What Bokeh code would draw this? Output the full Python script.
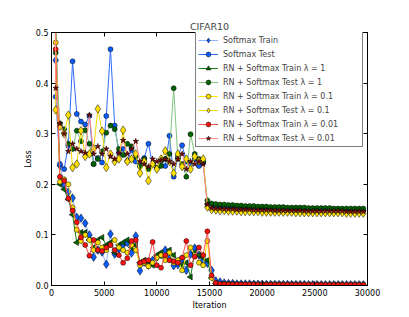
import math
from bokeh.plotting import figure
from bokeh.models import (Range1d, LinearAxis, Legend, LegendItem,
                          PrintfTickFormatter, FixedTicker, ColumnDataSource)
from bokeh.embed import file_html
from bokeh.resources import INLINE

iterations = list(range(0, 30000, 400))  # 75 evaluation steps

sm_train = [2.30, 0.445, 0.237, 0.200, 0.185, 0.173, 0.135, 0.133, 0.123, 0.100,
            0.056, 0.070, 0.066, 0.042, 0.102, 0.062, 0.072, 0.080, 0.085, 0.064,
            0.098, 0.029, 0.046, 0.040, 0.050, 0.056, 0.061, 0.070, 0.054, 0.039,
            0.041, 0.052, 0.030, 0.062, 0.074, 0.060, 0.050, 0.044, 0.030, 0.009,
            0.007, 0.005, 0.004, 0.004, 0.003, 0.003, 0.003, 0.003, 0.0025, 0.0025,
            0.0025, 0.0022, 0.0022, 0.0020, 0.0020, 0.0020, 0.0020, 0.0019, 0.0018, 0.0018,
            0.0018, 0.0017, 0.0017, 0.0016, 0.0016, 0.0016, 0.0015, 0.0015, 0.0015, 0.0015,
            0.0014, 0.0014, 0.0014, 0.0014, 0.0013]

sm_test = [2.30, 0.373, 0.240, 0.230, 0.276, 0.443, 0.339, 0.324, 0.318, 0.335,
           0.240, 0.252, 0.243, 0.335, 0.467, 0.316, 0.262, 0.270, 0.246, 0.268,
           0.245, 0.240, 0.252, 0.280, 0.240, 0.232, 0.245, 0.236, 0.296, 0.215,
           0.255, 0.277, 0.245, 0.240, 0.250, 0.236, 0.242, 0.160, 0.156, 0.155,
           0.154, 0.154, 0.153, 0.153, 0.153, 0.152, 0.152, 0.152, 0.152, 0.151,
           0.151, 0.151, 0.151, 0.151, 0.150, 0.150, 0.150, 0.150, 0.150, 0.150,
           0.150, 0.149, 0.149, 0.149, 0.149, 0.149, 0.149, 0.149, 0.149, 0.149,
           0.149, 0.149, 0.148, 0.148, 0.148]

rn1_train = [2.30, 0.520, 0.200, 0.190, 0.170, 0.140, 0.085, 0.105, 0.105, 0.090,
             0.075, 0.090, 0.095, 0.080, 0.085, 0.065, 0.080, 0.085, 0.090, 0.075,
             0.080, 0.045, 0.050, 0.045, 0.040, 0.060, 0.065, 0.055, 0.070, 0.060,
             0.050, 0.040, 0.045, 0.017, 0.065, 0.060, 0.055, 0.050, 0.015, 0.004,
             0.003, 0.003, 0.0025, 0.0025, 0.0022, 0.0022, 0.002, 0.002, 0.002, 0.0019,
             0.0019, 0.0018, 0.0018, 0.0018, 0.0017, 0.0017, 0.0017, 0.0016, 0.0016, 0.0016,
             0.0016, 0.0015, 0.0015, 0.0015, 0.0015, 0.0014, 0.0014, 0.0014, 0.0014, 0.0014,
             0.0013, 0.0013, 0.0013, 0.0013, 0.0013]

rn1_test = [2.30, 0.460, 0.320, 0.309, 0.280, 0.270, 0.306, 0.285, 0.307, 0.280,
            0.240, 0.250, 0.265, 0.302, 0.316, 0.309, 0.270, 0.258, 0.280, 0.275,
            0.255, 0.235, 0.250, 0.230, 0.240, 0.233, 0.236, 0.250, 0.260, 0.390,
            0.250, 0.240, 0.215, 0.299, 0.260, 0.250, 0.245, 0.168, 0.162, 0.161,
            0.160, 0.160, 0.159, 0.159, 0.158, 0.158, 0.157, 0.157, 0.157, 0.156,
            0.156, 0.156, 0.155, 0.155, 0.155, 0.155, 0.154, 0.154, 0.154, 0.154,
            0.154, 0.153, 0.153, 0.153, 0.153, 0.153, 0.153, 0.152, 0.152, 0.152,
            0.152, 0.152, 0.152, 0.152, 0.152]

rn01_train = [2.30, 0.480, 0.205, 0.210, 0.200, 0.154, 0.110, 0.088, 0.100, 0.090,
              0.070, 0.085, 0.075, 0.070, 0.080, 0.090, 0.075, 0.070, 0.065, 0.080,
              0.070, 0.040, 0.045, 0.038, 0.045, 0.055, 0.060, 0.050, 0.065, 0.045,
              0.050, 0.030, 0.060, 0.075, 0.060, 0.045, 0.040, 0.088, 0.015, 0.004,
              0.003, 0.003, 0.0025, 0.0025, 0.0022, 0.0022, 0.002, 0.002, 0.002, 0.0019,
              0.0019, 0.0018, 0.0018, 0.0018, 0.0017, 0.0017, 0.0017, 0.0016, 0.0016, 0.0016,
              0.0016, 0.0015, 0.0015, 0.0015, 0.0015, 0.0014, 0.0014, 0.0014, 0.0014, 0.0014,
              0.0013, 0.0013, 0.0013, 0.0013, 0.0013]

rn01_test = [2.30, 0.347, 0.315, 0.300, 0.337, 0.233, 0.240, 0.306, 0.255, 0.260,
             0.270, 0.349, 0.305, 0.233, 0.260, 0.245, 0.250, 0.307, 0.245, 0.250,
             0.260, 0.222, 0.245, 0.207, 0.240, 0.230, 0.250, 0.266, 0.245, 0.222,
             0.260, 0.235, 0.250, 0.230, 0.255, 0.246, 0.250, 0.155, 0.150, 0.149,
             0.148, 0.148, 0.147, 0.147, 0.147, 0.146, 0.146, 0.146, 0.146, 0.146,
             0.145, 0.145, 0.145, 0.145, 0.145, 0.145, 0.145, 0.145, 0.144, 0.144,
             0.144, 0.144, 0.144, 0.144, 0.144, 0.144, 0.144, 0.144, 0.144, 0.144,
             0.143, 0.143, 0.143, 0.143, 0.143]

rn001_train = [2.30, 0.467, 0.215, 0.207, 0.172, 0.148, 0.125, 0.095, 0.080, 0.059,
               0.090, 0.070, 0.068, 0.075, 0.080, 0.070, 0.060, 0.045, 0.054, 0.088,
               0.090, 0.045, 0.048, 0.050, 0.086, 0.040, 0.035, 0.060, 0.050, 0.048,
               0.045, 0.055, 0.088, 0.040, 0.057, 0.075, 0.060, 0.107, 0.020, 0.005,
               0.003, 0.0025, 0.0022, 0.002, 0.002, 0.0019, 0.0018, 0.0018, 0.0017, 0.0017,
               0.0016, 0.0016, 0.0016, 0.0015, 0.0015, 0.0015, 0.0014, 0.0014, 0.0014, 0.0014,
               0.0013, 0.0013, 0.0013, 0.0013, 0.0013, 0.0012, 0.0012, 0.0012, 0.0012, 0.0012,
               0.0012, 0.0011, 0.0011, 0.0011, 0.0011]

rn001_test = [2.30, 0.390, 0.320, 0.300, 0.265, 0.280, 0.270, 0.265, 0.262, 0.337,
              0.260, 0.275, 0.260, 0.270, 0.255, 0.250, 0.262, 0.287, 0.260, 0.270,
              0.285, 0.245, 0.240, 0.235, 0.250, 0.245, 0.248, 0.250, 0.245, 0.240,
              0.250, 0.260, 0.230, 0.245, 0.240, 0.245, 0.240, 0.160, 0.153, 0.152,
              0.152, 0.151, 0.151, 0.151, 0.150, 0.150, 0.150, 0.150, 0.149, 0.149,
              0.149, 0.149, 0.149, 0.148, 0.148, 0.148, 0.148, 0.148, 0.148, 0.148,
              0.147, 0.147, 0.147, 0.147, 0.147, 0.147, 0.147, 0.147, 0.147, 0.147,
              0.146, 0.146, 0.146, 0.146, 0.146]

labels = ["Softmax Train", "Softmax Test",
          "RN + Softmax Train \u03bb = 1", "RN + Softmax Test \u03bb = 1",
          "RN + Softmax Train \u03bb = 0.1", "RN + Softmax Test \u03bb = 0.1",
          "RN + Softmax Train \u03bb = 0.01", "RN + Softmax Test \u03bb = 0.01"]
series = [sm_train, sm_test, rn1_train, rn1_test, rn01_train, rn01_test, rn001_train, rn001_test]

x_ticks = [0, 5000, 10000, 15000, 20000, 25000, 30000]
y_ticks = [0.0, 0.1, 0.2, 0.3, 0.4, 0.5]

# styles: (line colour, marker, marker fill, size, angle)
styles = [
    ("#8fb3ff", "diamond", "#0a5cff", 8.5, 0),
    ("#2e6bff", "circle", "#0a5cff", 5, 0),
    ("#1a7a1a", "triangle", "#006400", 6, math.pi / 2),
    ("#7fc47f", "circle", "#006400", 5, 0),
    ("#ffe600", "circle", "#ffe000", 5, 0),
    ("#f5d800", "diamond", "#ffe000", 8.5, 0),
    ("#ff5050", "circle", "#ff1010", 5, 0),
    ("#ff8a8a", "star", "#800000", 6, 0),
]

FONT = "DejaVu Sans"

p = figure(width=409, height=317, output_backend="svg", toolbar_location=None,
           x_range=Range1d(0, 30000), y_range=Range1d(0, 0.5),
           min_border_left=51, min_border_right=42, min_border_top=32, min_border_bottom=32,
           x_axis_label="Iteration", y_axis_label="Loss")

p.title.text = "CIFAR10"
p.title.align = "center"
p.title.text_font = FONT
p.title.text_font_size = "9.5px"
p.title.text_font_style = "normal"
p.title.standoff = 2
p.title.offset = 0

p.xgrid.visible = False
p.ygrid.visible = False
p.outline_line_color = "black"
p.outline_line_width = 1
p.background_fill_color = "white"
p.border_fill_color = "white"

def style_axis(ax, show_labels=True):
    ax.axis_line_color = "black"
    ax.axis_line_width = 1
    ax.major_tick_in = 4
    ax.major_tick_out = 0
    ax.minor_tick_line_color = None
    ax.major_tick_line_color = "black"
    ax.major_label_text_font = FONT
    ax.major_label_text_font_size = "8px" if show_labels else "0px"
    ax.major_label_text_color = "black" if show_labels else None
    ax.major_label_standoff = 3 if show_labels else 0
    ax.axis_label_text_font = FONT
    ax.axis_label_text_font_size = "8px"
    ax.axis_label_text_font_style = "normal"
    ax.axis_label_text_color = "black"
    ax.axis_label_standoff = 2

style_axis(p.xaxis[0])
style_axis(p.yaxis[0])
p.xaxis[0].ticker = FixedTicker(ticks=x_ticks)
p.yaxis[0].ticker = FixedTicker(ticks=y_ticks)
p.xaxis[0].formatter = PrintfTickFormatter(format="%d")
p.yaxis[0].formatter = PrintfTickFormatter(format="%.1f")
p.yaxis[0].axis_label_standoff = 0

top_ax = LinearAxis(ticker=FixedTicker(ticks=x_ticks))
style_axis(top_ax, False)
p.add_layout(top_ax, "above")
right_ax = LinearAxis(ticker=FixedTicker(ticks=y_ticks))
style_axis(right_ax, False)
p.add_layout(right_ax, "right")

items = []
for lab, ys, (lc, mk, fc, sz, ang) in zip(labels, series, styles):
    src = ColumnDataSource(data=dict(x=iterations, y=ys))
    lr = p.line("x", "y", source=src, line_color=lc, line_width=1)
    sr = p.scatter("x", "y", source=src, marker=mk, size=sz, angle=ang,
                   fill_color=fc, line_color="black", line_width=0.5)
    items.append(LegendItem(label=lab, renderers=[lr, sr]))

legend = Legend(items=items, location=(144, 138))
legend.label_text_font = FONT
legend.label_text_font_size = "8px"
legend.label_height = 12
legend.glyph_height = 12
legend.glyph_width = 20
legend.label_standoff = 5
legend.spacing = 2
legend.padding = 2
legend.margin = 0
legend.label_width = 137
legend.border_line_color = "black"
legend.border_line_width = 1
legend.background_fill_color = "white"
legend.background_fill_alpha = 1
p.add_layout(legend, "center")

open("out.html", "w").write(file_html(p, INLINE))
